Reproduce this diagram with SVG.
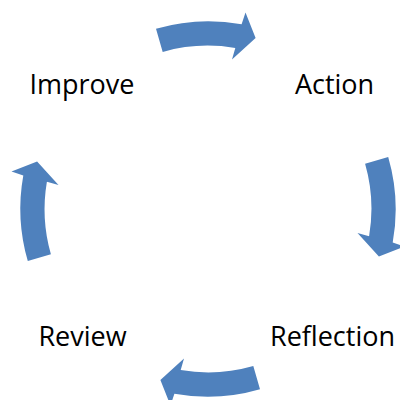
<svg xmlns="http://www.w3.org/2000/svg" width="400" height="400" viewBox="0 0 400 400">
  <style>
    .arrow { fill: #4F81BD; stroke: none; }
    .label { font-family: "Open Sans", "Liberation Sans", sans-serif; font-size: 27px; fill: #000000; text-anchor: middle; }
  </style>
  <defs>
    <path id="carrow" d="M156,28.8 A187.5,187.5 0 0 1 241.6,24.3 L245.5,12.5 L255.6,38.1 L232,59.5 L235.3,47.9 A163.5,163.5 0 0 0 162.7,51.9 Z"/>
  </defs>
  <rect width="400" height="400" fill="#FFFFFF"/>
  <g id="connectors">
    <use href="#carrow" class="arrow"/>
    <use href="#carrow" class="arrow" transform="rotate(90 208 209)"/>
    <use href="#carrow" class="arrow" transform="rotate(180 208 209)"/>
    <use href="#carrow" class="arrow" transform="rotate(270 208 209)"/>
  </g>
  <g id="node-improve"><text class="label" x="82" y="94">Improve</text></g>
  <g id="node-action"><text class="label" x="334.5" y="94">Action</text></g>
  <g id="node-reflection"><text class="label" x="332.5" y="345.5">Reflection</text></g>
  <g id="node-review"><text class="label" x="82.5" y="345.5">Review</text></g>
</svg>
